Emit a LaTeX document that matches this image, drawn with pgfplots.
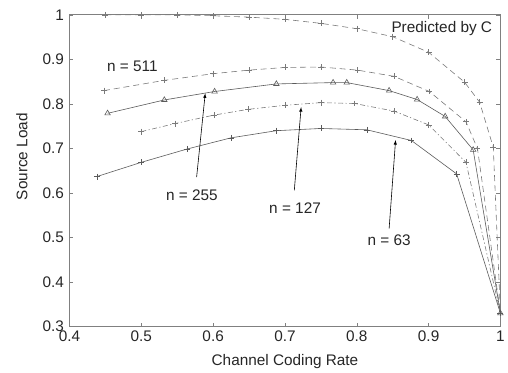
\documentclass[border=0pt]{standalone}
\usepackage{pgfplots}
\pgfplotsset{compat=1.18}
\usepackage{fontspec}
\setmainfont{Liberation Sans}
\definecolor{ln}{HTML}{5A5A5A}
\definecolor{lt}{HTML}{7A7A7A}
\newcommand\lbl{\fontsize{15.5}{17}\selectfont}
\begin{document}
\begin{tikzpicture}
\begin{axis}[
  scale only axis, width=434bp, height=314bp,
  xmin=0.4, xmax=1, ymin=0.3, ymax=1,
  xtick={0.4,0.5,...,1.0}, ytick={0.3,0.4,...,1.0},
  xticklabels={0.4,0.5,0.6,0.7,0.8,0.9,1},
  yticklabels={0.3,0.4,0.5,0.6,0.7,0.8,0.9,1},
  tick align=inside, major tick length=4pt,
  tick style={color=gray, line width=0.6pt},
  axis line style={color=gray, line width=0.8pt},
  ticklabel style={font=\lbl, color=black!85},
  yticklabel style={xshift=-2bp},
  xticklabel style={yshift=-1bp},
  label style={font=\lbl, color=black!85},
  xlabel={Channel Coding Rate}, ylabel={Source Load},
  xlabel style={at={(axis description cs:0.5,0)}, anchor=center, yshift=-35bp},
  ylabel style={at={(axis description cs:0,0.545)}, anchor=center, yshift=48bp},
  /pgf/number format/assume math mode=true,
  clip=false,
  every axis plot/.append style={line width=0.6pt},
]
\path (rel axis cs:0,0) ++(-70bp,-46bp) coordinate (bbA);
\path (rel axis cs:1,1) ++(4bp,15bp) coordinate (bbB);
% Predicted by C
\addplot[lt, dash pattern=on 6pt off 4pt, mark=+, mark size=3pt, mark options={solid}] coordinates {
(0.45,1.0) (0.5,1.0) (0.55,1.0) (0.6,0.998) (0.65,0.995) (0.7,0.99) (0.75,0.981) (0.8,0.969) (0.85,0.951) (0.9,0.916) (0.95,0.849) (0.971,0.804) (0.99,0.703) (1.0,0.33)};
% n = 511
\addplot[lt, dash pattern=on 6pt off 4pt, mark=+, mark size=3pt, mark options={solid}] coordinates {
(0.448,0.830) (0.532,0.853) (0.6,0.868) (0.65,0.876) (0.7,0.882) (0.75,0.883) (0.801,0.876) (0.852,0.862) (0.901,0.828) (0.952,0.76) (0.968,0.70) (1.0,0.33)};
% n = 255
\addplot[ln, solid, mark=triangle, mark size=3.2pt] coordinates {
(0.453,0.779) (0.532,0.809) (0.602,0.828) (0.688,0.845) (0.767,0.848) (0.786,0.848) (0.845,0.830) (0.884,0.810) (0.923,0.772) (0.962,0.697) (1.0,0.33)};
% n = 127
\addplot[lt, dash pattern=on 5pt off 2.5pt on 1.2pt off 2.5pt, mark=+, mark size=3pt, mark options={solid}] coordinates {
(0.5,0.738) (0.547,0.756) (0.601,0.775) (0.649,0.788) (0.7,0.797) (0.75,0.803) (0.797,0.801) (0.852,0.784) (0.9,0.753) (0.952,0.669) (1.0,0.33)};
% n = 63
\addplot[ln, solid, mark=+, mark size=3pt] coordinates {
(0.438,0.637) (0.5,0.669) (0.564,0.699) (0.625,0.724) (0.688,0.740) (0.75,0.745) (0.814,0.742) (0.876,0.718) (0.939,0.643) (1.0,0.33)};
% arrows
\draw[-latex, black, line width=0.6pt] (axis cs:0.577,0.636) -- (axis cs:0.589,0.824);
\draw[-latex, black, line width=0.6pt] (axis cs:0.713,0.606) -- (axis cs:0.7225,0.793);
\draw[-latex, black, line width=0.6pt] (axis cs:0.845,0.52) -- (axis cs:0.854,0.719);
\node[font=\lbl, text=black!85] at (axis cs:0.5705,0.596) {n = 255};
\node[font=\lbl, text=black!85] at (axis cs:0.714,0.565) {n = 127};
\node[font=\lbl, text=black!85] at (axis cs:0.845,0.494) {n = 63};
\node[font=\lbl, text=black!85] at (axis cs:0.4875,0.885) {n = 511};
\node[font=\lbl, text=black!85, anchor=east, fill=white, inner sep=1pt] at (axis cs:0.99,0.969) {Predicted by C};
\end{axis}
\useasboundingbox (bbA) rectangle (bbB);
\end{tikzpicture}
\end{document}
